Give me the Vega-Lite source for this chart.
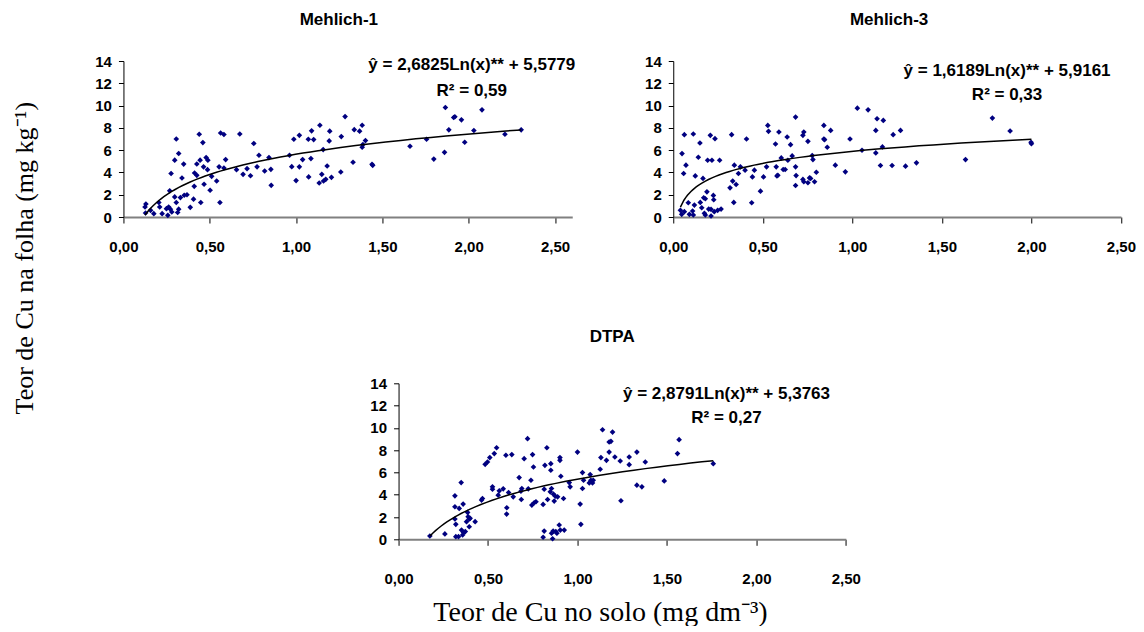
{
  "$schema": "https://vega.github.io/schema/vega-lite/v6.json",
  "padding": {"left": 12, "top": 10, "right": 0, "bottom": 0},
  "background": "white",
  "title": {"text": "Teor de Cu na folha (mg kg⁻¹)", "orient": "left", "anchor": "middle", "frame": "bounds", "align": "left", "baseline": "alphabetic",
            "font": "Liberation Serif", "fontWeight": "normal", "fontSize": 26, "color": "black", "offset": 22, "dx": -96},
  "datasets": {
    "m1": [
      {"x":0.125,"y":0.9},{"x":0.13,"y":1.17},{"x":0.128,"y":0.36},{"x":0.157,"y":0.6},{"x":0.176,"y":0.3},
      {"x":0.205,"y":1.3},{"x":0.21,"y":0.9},{"x":0.224,"y":0.3},{"x":0.249,"y":0.75},{"x":0.257,"y":0.15},
      {"x":0.262,"y":0.9},{"x":0.272,"y":0.7},{"x":0.268,"y":2.35},{"x":0.276,"y":3.9},{"x":0.28,"y":0.45},
      {"x":0.297,"y":1.8},{"x":0.297,"y":5.1},{"x":0.306,"y":7.0},{"x":0.306,"y":1.3},{"x":0.314,"y":0.4},
      {"x":0.32,"y":0.7},{"x":0.32,"y":5.7},{"x":0.33,"y":1.74},{"x":0.339,"y":3.5},{"x":0.349,"y":4.75},
      {"x":0.352,"y":1.95},{"x":0.368,"y":2.0},{"x":0.387,"y":0.87},{"x":0.406,"y":1.6},{"x":0.41,"y":2.75},
      {"x":0.412,"y":3.95},{"x":0.425,"y":4.76},{"x":0.425,"y":3.74},{"x":0.439,"y":7.43},{"x":0.444,"y":5.1},
      {"x":0.448,"y":1.3},{"x":0.46,"y":6.68},{"x":0.464,"y":4.5},{"x":0.467,"y":2.94},{"x":0.479,"y":5.33},
      {"x":0.489,"y":5.1},{"x":0.487,"y":4.25},{"x":0.502,"y":2.4},{"x":0.511,"y":3.65},{"x":0.54,"y":3.23},
      {"x":0.554,"y":4.5},{"x":0.559,"y":1.3},{"x":0.563,"y":7.54},{"x":0.582,"y":7.4},{"x":0.582,"y":4.4},
      {"x":0.592,"y":5.15},{"x":0.655,"y":4.25},{"x":0.674,"y":7.45},{"x":0.693,"y":3.83},{"x":0.716,"y":4.34},
      {"x":0.736,"y":3.7},{"x":0.755,"y":6.6},{"x":0.774,"y":4.5},{"x":0.785,"y":5.54},{"x":0.818,"y":4.13},
      {"x":0.843,"y":5.33},{"x":0.854,"y":4.28},{"x":0.856,"y":2.84},{"x":0.962,"y":5.54},{"x":0.975,"y":4.52},
      {"x":0.987,"y":6.98},{"x":1.0,"y":3.27},{"x":1.019,"y":7.33},{"x":1.019,"y":4.5},{"x":1.038,"y":5.15},
      {"x":1.071,"y":6.98},{"x":1.073,"y":3.6},{"x":1.086,"y":5.24},{"x":1.09,"y":7.73},{"x":1.102,"y":6.95},
      {"x":1.134,"y":3.05},{"x":1.138,"y":8.23},{"x":1.149,"y":3.83},{"x":1.157,"y":6.05},{"x":1.159,"y":3.23},
      {"x":1.172,"y":3.38},{"x":1.18,"y":4.58},{"x":1.192,"y":6.83},{"x":1.195,"y":7.7},{"x":1.205,"y":3.56},
      {"x":1.259,"y":4.04},{"x":1.262,"y":7.22},{"x":1.284,"y":9.01},{"x":1.33,"y":4.91},{"x":1.337,"y":7.84},
      {"x":1.368,"y":7.7},{"x":1.383,"y":8.23},{"x":1.383,"y":6.26},{"x":1.387,"y":6.5},{"x":1.402,"y":6.86},
      {"x":1.44,"y":4.73},{"x":1.444,"y":4.64},{"x":1.66,"y":6.35},{"x":1.756,"y":6.98},{"x":1.798,"y":5.2},
      {"x":1.86,"y":5.8},{"x":1.865,"y":9.83},{"x":1.885,"y":7.82},{"x":1.913,"y":8.93},{"x":1.92,"y":9.0},
      {"x":1.958,"y":8.72},{"x":1.977,"y":6.71},{"x":2.03,"y":7.76},{"x":2.077,"y":9.62},{"x":2.21,"y":7.43},
      {"x":2.304,"y":7.82}
    ],
    "m3": [
      {"x":0.04,"y":0.6},{"x":0.049,"y":5.69},{"x":0.062,"y":7.39},{"x":0.058,"y":3.9},{"x":0.071,"y":4.65},
      {"x":0.047,"y":0.24},{"x":0.062,"y":0.48},{"x":0.084,"y":1.28},{"x":0.09,"y":0.24},{"x":0.108,"y":0.54},
      {"x":0.112,"y":7.45},{"x":0.118,"y":1.07},{"x":0.112,"y":0.18},{"x":0.123,"y":3.69},{"x":0.14,"y":5.36},
      {"x":0.149,"y":6.64},{"x":0.151,"y":1.31},{"x":0.159,"y":0.83},{"x":0.166,"y":3.46},{"x":0.17,"y":1.73},
      {"x":0.179,"y":1.64},{"x":0.174,"y":0.33},{"x":0.179,"y":0.18},{"x":0.188,"y":2.26},{"x":0.192,"y":5.09},
      {"x":0.198,"y":0.71},{"x":0.207,"y":7.33},{"x":0.211,"y":0.09},{"x":0.211,"y":0.69},{"x":0.216,"y":5.09},
      {"x":0.224,"y":1.94},{"x":0.226,"y":1.55},{"x":0.229,"y":0.48},{"x":0.233,"y":7.03},{"x":0.248,"y":0.6},
      {"x":0.259,"y":5.09},{"x":0.267,"y":0.71},{"x":0.317,"y":2.62},{"x":0.326,"y":7.39},{"x":0.332,"y":3.22},
      {"x":0.341,"y":4.65},{"x":0.338,"y":1.31},{"x":0.351,"y":2.92},{"x":0.364,"y":3.9},{"x":0.375,"y":4.5},
      {"x":0.401,"y":4.2},{"x":0.409,"y":7.0},{"x":0.438,"y":1.28},{"x":0.442,"y":3.6},{"x":0.453,"y":4.2},
      {"x":0.487,"y":2.32},{"x":0.504,"y":3.6},{"x":0.521,"y":4.5},{"x":0.528,"y":8.22},{"x":0.532,"y":7.69},
      {"x":0.571,"y":6.55},{"x":0.575,"y":4.5},{"x":0.579,"y":3.69},{"x":0.584,"y":3.75},{"x":0.59,"y":7.63},
      {"x":0.603,"y":5.3},{"x":0.614,"y":4.26},{"x":0.625,"y":4.26},{"x":0.636,"y":7.18},{"x":0.64,"y":5.09},
      {"x":0.655,"y":6.49},{"x":0.664,"y":5.48},{"x":0.683,"y":8.97},{"x":0.683,"y":4.5},{"x":0.686,"y":3.72},
      {"x":0.683,"y":2.83},{"x":0.724,"y":7.33},{"x":0.729,"y":7.63},{"x":0.724,"y":3.37},{"x":0.729,"y":3.16},
      {"x":0.752,"y":6.79},{"x":0.752,"y":3.07},{"x":0.761,"y":3.51},{"x":0.767,"y":3.46},{"x":0.776,"y":5.51},
      {"x":0.78,"y":5.15},{"x":0.789,"y":3.16},{"x":0.799,"y":4.02},{"x":0.841,"y":8.22},{"x":0.841,"y":7.0},
      {"x":0.845,"y":6.94},{"x":0.86,"y":6.26},{"x":0.879,"y":7.77},{"x":0.905,"y":4.65},{"x":0.961,"y":4.05},
      {"x":0.987,"y":7.0},{"x":1.028,"y":9.77},{"x":1.054,"y":5.99},{"x":1.088,"y":9.62},{"x":1.131,"y":5.75},
      {"x":1.131,"y":7.77},{"x":1.138,"y":8.82},{"x":1.157,"y":4.62},{"x":1.168,"y":6.29},{"x":1.173,"y":8.67},
      {"x":1.222,"y":4.62},{"x":1.228,"y":7.39},{"x":1.269,"y":7.77},{"x":1.297,"y":4.56},{"x":1.358,"y":4.86},
      {"x":1.632,"y":5.15},{"x":1.782,"y":8.88},{"x":1.881,"y":7.72},{"x":1.998,"y":6.7},{"x":2.0,"y":6.58}
    ],
    "dtpa": [
      {"x":0.175,"y":0.3},{"x":0.259,"y":0.48},{"x":0.315,"y":3.9},{"x":0.315,"y":2.92},{"x":0.315,"y":1.82},
      {"x":0.32,"y":1.34},{"x":0.32,"y":0.24},{"x":0.335,"y":0.24},{"x":0.339,"y":2.77},{"x":0.35,"y":5.09},
      {"x":0.352,"y":0.83},{"x":0.358,"y":0.39},{"x":0.361,"y":3.16},{"x":0.363,"y":0.6},{"x":0.373,"y":0.69},
      {"x":0.38,"y":1.58},{"x":0.386,"y":2.41},{"x":0.389,"y":2.03},{"x":0.395,"y":1.82},{"x":0.4,"y":1.88},
      {"x":0.395,"y":1.13},{"x":0.428,"y":1.58},{"x":0.464,"y":3.52},{"x":0.469,"y":3.66},{"x":0.484,"y":6.73},
      {"x":0.497,"y":6.94},{"x":0.51,"y":7.33},{"x":0.525,"y":4.71},{"x":0.525,"y":4.5},{"x":0.535,"y":7.69},
      {"x":0.548,"y":8.22},{"x":0.557,"y":3.96},{"x":0.563,"y":4.35},{"x":0.585,"y":4.53},{"x":0.6,"y":7.54},
      {"x":0.604,"y":2.26},{"x":0.605,"y":2.83},{"x":0.615,"y":4.2},{"x":0.633,"y":7.6},{"x":0.641,"y":3.81},
      {"x":0.674,"y":5.54},{"x":0.684,"y":4.32},{"x":0.686,"y":3.57},{"x":0.689,"y":4.56},{"x":0.702,"y":7.24},
      {"x":0.721,"y":9.03},{"x":0.725,"y":4.53},{"x":0.74,"y":5.3},{"x":0.745,"y":3.07},{"x":0.749,"y":7.6},
      {"x":0.754,"y":6.49},{"x":0.758,"y":3.28},{"x":0.768,"y":3.37},{"x":0.808,"y":3.13},{"x":0.808,"y":0.18},
      {"x":0.814,"y":0.74},{"x":0.814,"y":4.5},{"x":0.818,"y":6.64},{"x":0.829,"y":8.22},{"x":0.833,"y":3.57},
      {"x":0.848,"y":4.26},{"x":0.851,"y":6.79},{"x":0.851,"y":6.2},{"x":0.855,"y":4.56},{"x":0.855,"y":0.54},
      {"x":0.861,"y":0.05},{"x":0.864,"y":0.74},{"x":0.866,"y":4.05},{"x":0.87,"y":3.43},{"x":0.876,"y":3.87},
      {"x":0.879,"y":0.69},{"x":0.885,"y":0.54},{"x":0.889,"y":3.81},{"x":0.898,"y":1.28},{"x":0.902,"y":7.09},
      {"x":0.902,"y":7.33},{"x":0.904,"y":0.83},{"x":0.907,"y":5.66},{"x":0.922,"y":3.66},{"x":0.926,"y":0.83},
      {"x":0.954,"y":5.09},{"x":0.959,"y":4.71},{"x":1.0,"y":7.83},{"x":1.015,"y":3.16},{"x":1.019,"y":1.34},
      {"x":1.028,"y":4.56},{"x":1.028,"y":5.99},{"x":1.034,"y":5.3},{"x":1.066,"y":5.06},{"x":1.071,"y":5.81},
      {"x":1.075,"y":5.3},{"x":1.084,"y":5.06},{"x":1.088,"y":5.3},{"x":1.127,"y":6.29},{"x":1.131,"y":7.33},
      {"x":1.14,"y":9.83},{"x":1.162,"y":7.09},{"x":1.177,"y":7.83},{"x":1.177,"y":8.73},{"x":1.187,"y":8.79},
      {"x":1.196,"y":9.62},{"x":1.209,"y":7.39},{"x":1.239,"y":7.03},{"x":1.243,"y":3.46},{"x":1.289,"y":7.39},
      {"x":1.289,"y":6.7},{"x":1.332,"y":7.83},{"x":1.332,"y":4.86},{"x":1.36,"y":4.71},{"x":1.379,"y":6.94},
      {"x":1.485,"y":5.24},{"x":1.559,"y":7.69},{"x":1.568,"y":8.94},{"x":1.759,"y":6.79}
    ]
  },
  "vconcat": [
    {
      "hconcat": [
        {
          "width": 448.8,
          "height": 156,
          "title": {"text": "Mehlich-1", "dx": -9, "offset": 12.2, "anchor": "middle", "frame": "group", "baseline": "alphabetic", "font": "Liberation Sans", "fontWeight": "bold", "fontSize": 17, "color": "black"},
          "data": {"name": "m1"},
          "layer": [
            {
              "mark": {"type": "point", "shape": "diamond", "filled": true, "color": "#000080", "size": 32, "opacity": 1},
              "encoding": {
                "x": {"field": "x", "type": "quantitative", "scale": {"domain": [0, 2.6], "nice": false, "zero": false},
                      "axis": {"title": null, "values": [0, 0.5, 1, 1.5, 2, 2.5], "labelPadding": 16}},
                "y": {"field": "y", "type": "quantitative", "scale": {"domain": [0, 14], "nice": false},
                      "axis": {"title": null, "values": [0, 2, 4, 6, 8, 10, 12, 14], "minExtent": 42}}
              }
            },
            {
              "transform": [{"regression": "y", "on": "x", "method": "log"}],
              "mark": {"type": "line", "color": "black", "strokeWidth": 1.5},
              "encoding": {
                "x": {"field": "x", "type": "quantitative", "scale": {"domain": [0, 2.6], "nice": false, "zero": false},
                      "axis": {"title": null, "values": [0, 0.5, 1, 1.5, 2, 2.5], "labelPadding": 16}},
                "y": {"field": "y", "type": "quantitative", "scale": {"domain": [0, 14], "nice": false},
                      "axis": {"title": null, "values": [0, 2, 4, 6, 8, 10, 12, 14], "minExtent": 42}}
              }
            },
            {
              "data": {"values": [{"t": 1}]},
              "mark": {"type": "text", "text": "ŷ = 2,6825Ln(x)** + 5,5779", "font": "Liberation Sans", "fontWeight": "bold", "fontSize": 17, "align": "center", "baseline": "alphabetic", "color": "black"},
              "encoding": {
                "x": {"datum": 2.018, "type": "quantitative", "scale": {"domain": [0, 2.6], "nice": false, "zero": false},
                      "axis": {"title": null, "values": [0, 0.5, 1, 1.5, 2, 2.5], "labelPadding": 16}},
                "y": {"datum": 13.16, "type": "quantitative", "scale": {"domain": [0, 14], "nice": false},
                      "axis": {"title": null, "values": [0, 2, 4, 6, 8, 10, 12, 14], "minExtent": 42}}
              }
            },
            {
              "data": {"values": [{"t": 1}]},
              "mark": {"type": "text", "text": "R² = 0,59", "font": "Liberation Sans", "fontWeight": "bold", "fontSize": 17, "align": "center", "baseline": "alphabetic", "color": "black"},
              "encoding": {
                "x": {"datum": 2.018, "type": "quantitative", "scale": {"domain": [0, 2.6], "nice": false, "zero": false},
                      "axis": {"title": null, "values": [0, 0.5, 1, 1.5, 2, 2.5], "labelPadding": 16}},
                "y": {"datum": 10.85, "type": "quantitative", "scale": {"domain": [0, 14], "nice": false},
                      "axis": {"title": null, "values": [0, 2, 4, 6, 8, 10, 12, 14], "minExtent": 42}}
              }
            }
          ]
        },
        {
          "width": 447.7,
          "height": 156,
          "title": {"text": "Mehlich-3", "dx": -8, "offset": 12.2, "anchor": "middle", "frame": "group", "baseline": "alphabetic", "font": "Liberation Sans", "fontWeight": "bold", "fontSize": 17, "color": "black"},
          "data": {"name": "m3"},
          "layer": [
            {
              "mark": {"type": "point", "shape": "diamond", "filled": true, "color": "#000080", "size": 32, "opacity": 1},
              "encoding": {
                "x": {"field": "x", "type": "quantitative", "scale": {"domain": [0, 2.5], "nice": false, "zero": false},
                      "axis": {"title": null, "values": [0, 0.5, 1, 1.5, 2, 2.5], "labelPadding": 16}},
                "y": {"field": "y", "type": "quantitative", "scale": {"domain": [0, 14], "nice": false},
                      "axis": {"title": null, "values": [0, 2, 4, 6, 8, 10, 12, 14]}}
              }
            },
            {
              "transform": [{"regression": "y", "on": "x", "method": "log"}],
              "mark": {"type": "line", "color": "black", "strokeWidth": 1.5},
              "encoding": {
                "x": {"field": "x", "type": "quantitative", "scale": {"domain": [0, 2.5], "nice": false, "zero": false},
                      "axis": {"title": null, "values": [0, 0.5, 1, 1.5, 2, 2.5], "labelPadding": 16}},
                "y": {"field": "y", "type": "quantitative", "scale": {"domain": [0, 14], "nice": false},
                      "axis": {"title": null, "values": [0, 2, 4, 6, 8, 10, 12, 14]}}
              }
            },
            {
              "data": {"values": [{"t": 1}]},
              "mark": {"type": "text", "text": "ŷ = 1,6189Ln(x)** + 5,9161", "font": "Liberation Sans", "fontWeight": "bold", "fontSize": 17, "align": "center", "baseline": "alphabetic", "color": "black"},
              "encoding": {
                "x": {"datum": 1.864, "type": "quantitative", "scale": {"domain": [0, 2.5], "nice": false, "zero": false},
                      "axis": {"title": null, "values": [0, 0.5, 1, 1.5, 2, 2.5], "labelPadding": 16}},
                "y": {"datum": 12.69, "type": "quantitative", "scale": {"domain": [0, 14], "nice": false},
                      "axis": {"title": null, "values": [0, 2, 4, 6, 8, 10, 12, 14]}}
              }
            },
            {
              "data": {"values": [{"t": 1}]},
              "mark": {"type": "text", "text": "R² = 0,33", "font": "Liberation Sans", "fontWeight": "bold", "fontSize": 17, "align": "center", "baseline": "alphabetic", "color": "black"},
              "encoding": {
                "x": {"datum": 1.864, "type": "quantitative", "scale": {"domain": [0, 2.5], "nice": false, "zero": false},
                      "axis": {"title": null, "values": [0, 0.5, 1, 1.5, 2, 2.5], "labelPadding": 16}},
                "y": {"datum": 10.46, "type": "quantitative", "scale": {"domain": [0, 14], "nice": false},
                      "axis": {"title": null, "values": [0, 2, 4, 6, 8, 10, 12, 14]}}
              }
            }
          ]
        }
      ],
      "spacing": 100.8,
      "bounds": "flush"
    },
    {
      "width": 447.3,
      "height": 156,
      "title": {"text": "DTPA", "dx": -10, "offset": 17.2, "anchor": "middle", "frame": "group", "baseline": "alphabetic", "font": "Liberation Sans", "fontWeight": "bold", "fontSize": 17, "color": "black"},
      "data": {"name": "dtpa"},
      "layer": [
        {
          "mark": {"type": "point", "shape": "diamond", "filled": true, "color": "#000080", "size": 32, "opacity": 1},
          "encoding": {
            "x": {"field": "x", "type": "quantitative", "scale": {"domain": [0, 2.5], "nice": false, "zero": false},
                  "axis": {"title": "Teor de Cu no solo (mg dm⁻³)", "titleX": 34.3, "titleY": 80.7, "titleAlign": "left", "titleBaseline": "alphabetic", "titleFontSize": 28,
                           "values": [0, 0.5, 1, 1.5, 2, 2.5], "labelPadding": 26}},
            "y": {"field": "y", "type": "quantitative", "scale": {"domain": [0, 14], "nice": false},
                  "axis": {"title": null, "values": [0, 2, 4, 6, 8, 10, 12, 14]}}
          }
        },
        {
          "transform": [{"regression": "y", "on": "x", "method": "log"}],
          "mark": {"type": "line", "color": "black", "strokeWidth": 1.5},
          "encoding": {
            "x": {"field": "x", "type": "quantitative", "scale": {"domain": [0, 2.5], "nice": false, "zero": false},
                  "axis": {"title": "Teor de Cu no solo (mg dm⁻³)", "titleX": 34.3, "titleY": 80.7, "titleAlign": "left", "titleBaseline": "alphabetic", "titleFontSize": 28,
                           "values": [0, 0.5, 1, 1.5, 2, 2.5], "labelPadding": 26}},
            "y": {"field": "y", "type": "quantitative", "scale": {"domain": [0, 14], "nice": false},
                  "axis": {"title": null, "values": [0, 2, 4, 6, 8, 10, 12, 14]}}
          }
        },
        {
          "data": {"values": [{"t": 1}]},
          "mark": {"type": "text", "text": "ŷ = 2,8791Ln(x)** + 5,3763", "font": "Liberation Sans", "fontWeight": "bold", "fontSize": 17, "align": "center", "baseline": "alphabetic", "color": "black"},
          "encoding": {
            "x": {"datum": 1.833, "type": "quantitative", "scale": {"domain": [0, 2.5], "nice": false, "zero": false},
                  "axis": {"title": "Teor de Cu no solo (mg dm⁻³)", "titleX": 34.3, "titleY": 80.7, "titleAlign": "left", "titleBaseline": "alphabetic", "titleFontSize": 28,
                           "values": [0, 0.5, 1, 1.5, 2, 2.5], "labelPadding": 26}},
            "y": {"datum": 12.6, "type": "quantitative", "scale": {"domain": [0, 14], "nice": false},
                  "axis": {"title": null, "values": [0, 2, 4, 6, 8, 10, 12, 14]}}
          }
        },
        {
          "data": {"values": [{"t": 1}]},
          "mark": {"type": "text", "text": "R² = 0,27", "font": "Liberation Sans", "fontWeight": "bold", "fontSize": 17, "align": "center", "baseline": "alphabetic", "color": "black"},
          "encoding": {
            "x": {"datum": 1.833, "type": "quantitative", "scale": {"domain": [0, 2.5], "nice": false, "zero": false},
                  "axis": {"title": "Teor de Cu no solo (mg dm⁻³)", "titleX": 34.3, "titleY": 80.7, "titleAlign": "left", "titleBaseline": "alphabetic", "titleFontSize": 28,
                           "values": [0, 0.5, 1, 1.5, 2, 2.5], "labelPadding": 26}},
            "y": {"datum": 10.42, "type": "quantitative", "scale": {"domain": [0, 14], "nice": false},
                  "axis": {"title": null, "values": [0, 2, 4, 6, 8, 10, 12, 14]}}
          }
        }
      ]
    }
  ],
  "spacing": 73.3,
  "center": true,
  "config": {
    "view": {"stroke": null},
    "axis": {
      "grid": false,
      "labelFont": "Liberation Sans", "labelFontWeight": "bold", "labelFontSize": 15, "labelColor": "black",
      "titleFont": "Liberation Serif", "titleFontWeight": "normal", "titleFontSize": 26, "titleColor": "black",
      "tickColor": "black", "tickWidth": 1, "domainColor": "black", "domainWidth": 1
    },
    "axisX": {"domainColor": "#808080", "domainWidth": 2, "tickSize": 6, "labelExpr": "replace(format(datum.value, '.2f'), '.', ',')", "labelFlush": false, "labelOverlap": false},
    "axisY": {"tickSize": 5, "labelPadding": 7, "labelOverlap": false, "labelExpr": "format(datum.value, 'd')"}
  }
}
